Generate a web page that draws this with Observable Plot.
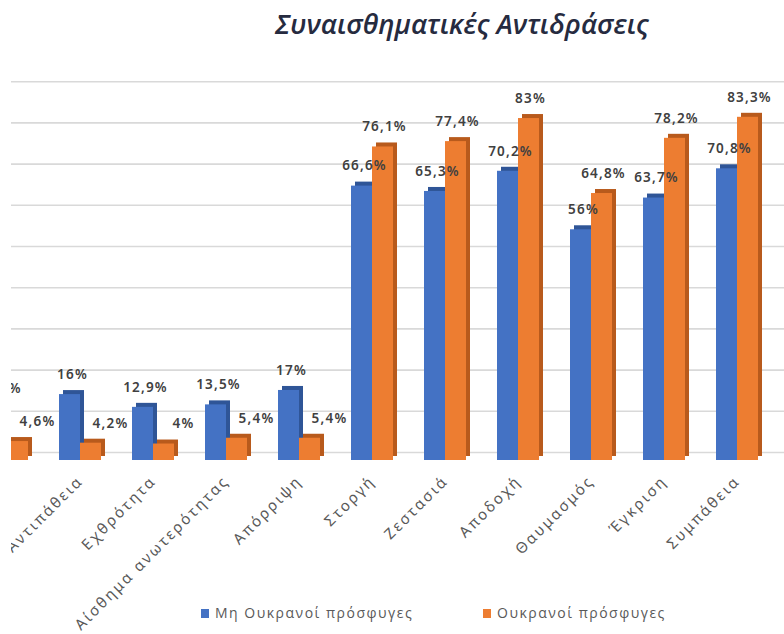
<!DOCTYPE html>
<html>
<head>
<meta charset="utf-8">
<script src="https://cdn.jsdelivr.net/npm/d3@7"></script>
<script src="https://cdn.jsdelivr.net/npm/@observablehq/plot@0.6"></script>
<style>
  html, body { margin: 0; padding: 0; background: #fff; }
  body { width: 784px; height: 634px; overflow: hidden; position: relative; font-family: "Open Sans", sans-serif; }
  #title { position: absolute; left: 140px; top: 6px; width: 644px; text-align: center;
           font-size: 27.5px; font-weight: 600; font-style: italic; color: #262b40; line-height: 36px; }
  #chart { position: absolute; left: 11px; top: 62px; width: 773px; height: 572px; overflow: hidden; }
  #chart g[aria-label="text"] text { letter-spacing: 1.2px; }
  #chart g[aria-label="x-axis tick label"] text { letter-spacing: 2.3px; }
  .leg { position: absolute; top: 602px; font-size: 14px; color: #595959; letter-spacing: 1.5px; line-height: 22px; white-space: nowrap; }
  .sw { display: inline-block; width: 8px; height: 9px; margin-right: 6px; }
</style>
</head>
<body>
<div id="title"></div>
<div id="chart"></div>
<div class="leg" id="leg0" style="left:201px"></div>
<div class="leg" id="leg1" style="left:483px"></div>
<script>
// ---- data ----
const categories = ["Φόβος", "Αντιπάθεια", "Εχθρότητα", "Αίσθημα ανωτερότητας", "Απόρριψη",
  "Στοργή", "Ζεστασιά", "Αποδοχή", "Θαυμασμός", "Έγκριση", "Συμπάθεια"];
const nonUkrainian = [12.6, 16, 12.9, 13.5, 17, 66.6, 65.3, 70.2, 56, 63.7, 70.8];
const ukrainian = [4.6, 4.2, 4, 5.4, 5.4, 76.1, 77.4, 83, 64.8, 78.2, 83.3];
const seriesNames = ["Μη Ουκρανοί πρόσφυγες", "Ουκρανοί πρόσφυγες"];
const gridTicks = [0, 10, 20, 30, 40, 50, 60, 70, 80, 90];
const titleText = "Συναισθηματικές Αντιδράσεις";

const colors = { blue: "#4472c4", blueDark: "#2f5597", orange: "#ed7d31", orangeDark: "#b85a1c" };

const rows = categories.map((c, i) => ({ category: c, blue: nonUkrainian[i], orange: ukrainian[i] }));
const fmt = v => String(v).replace(".", ",") + "%";

document.getElementById("title").textContent = titleText;
document.getElementById("leg0").innerHTML = `<span class="sw" style="background:${colors.blue}"></span>${seriesNames[0]}`;
document.getElementById("leg1").innerHTML = `<span class="sw" style="background:${colors.orange}"></span>${seriesNames[1]}`;

const W = 773, H = 572, base = 398, pxPer = 4.12;

const chart = Plot.plot({
  width: W,
  height: H,
  marginLeft: 0, marginRight: 0, marginTop: 0, marginBottom: H - base,
  style: { background: "transparent", overflow: "hidden" },
  x: { type: "band", domain: categories, range: [-59, 781], padding: 0.4286 },
  y: { domain: [0, 90], range: [base, base - 90 * pxPer], axis: null },
  marks: [
    Plot.ruleY(gridTicks, { y: d => d, dy: -8, stroke: "#d9d9d9", strokeWidth: 1.6 }),
    Plot.barY(rows, { x: "category", y: "blue", insetRight: 21, dx: 4, dy: -4, fill: colors.blueDark }),
    Plot.barY(rows, { x: "category", y: "blue", insetRight: 21, fill: colors.blue }),
    Plot.barY(rows, { x: "category", y: "orange", insetLeft: 21, dx: 4, dy: -4, fill: colors.orangeDark }),
    Plot.barY(rows, { x: "category", y: "orange", insetLeft: 21, fill: colors.orange }),
    Plot.text(rows, { x: "category", y: "blue", text: d => fmt(d.blue), dx: -8, dy: -20,
      fontSize: 13.5, fontWeight: 600, fill: "#404040" }),
    Plot.text(rows.filter(d => d.orange >= 10), { x: "category", y: "orange", text: d => fmt(d.orange), dx: 12, dy: -20,
      fontSize: 13.5, fontWeight: 600, fill: "#404040" }),
    Plot.text(rows.filter(d => d.orange < 10), { x: "category", y: "orange", text: d => fmt(d.orange), dx: 30, dy: -20,
      fontSize: 13.5, fontWeight: 600, fill: "#404040" }),
    Plot.axisX({ tickRotate: -45, tickSize: 0, tickPadding: 18, fontSize: 15, fill: "#595959", label: null })
  ]
});
document.getElementById("chart").appendChild(chart);
</script>
</body>
</html>
